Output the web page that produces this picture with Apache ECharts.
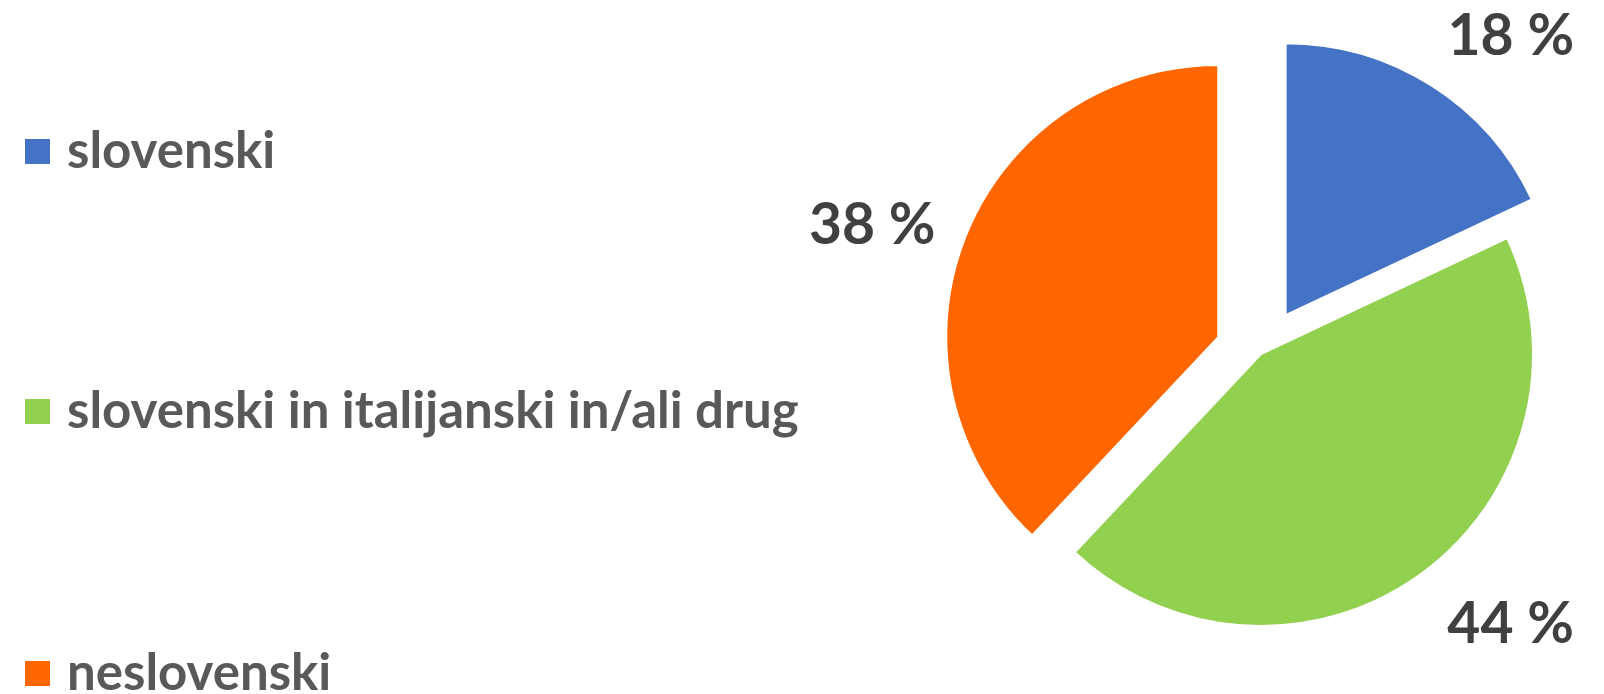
<!DOCTYPE html>
<html>
<head>
<meta charset="utf-8">
<script src="https://cdn.jsdelivr.net/npm/echarts@6/dist/echarts.min.js"></script>
<style>
html, body { margin: 0; padding: 0; background: #fff; }
#main { width: 1604px; height: 694px; }
</style>
</head>
<body>
<div id="main"></div>
<script>
// podatki
var categories = ['slovenski', 'slovenski in italijanski in/ali drug', 'neslovenski'];
var values = [18, 44, 38];
var sliceColors = ['#4472C4', '#92D050', '#FF6600'];
var explodedSlices = [true, false, true];

// label placement tweaks (style only)
var labelLineLen = [58, 62, 32];
var labelDist = [-15, -10, 0];
var legendTops = [126, 386, 648];

var fontName = 'Lato, "Open Sans", sans-serif';

var pieData = [];
for (var i = 0; i < categories.length; i++) {
	pieData.push({
		name: categories[i],
		value: values[i],
		selected: explodedSlices[i],
		itemStyle: { color: sliceColors[i] },
		labelLine: { show: false, length: labelLineLen[i], length2: 0 },
		label: { distanceToLabelLine: labelDist[i] }
	});
}

var legends = [];
for (var j = 0; j < categories.length; j++) {
	legends.push({
		orient: 'vertical',
		left: 25,
		top: legendTops[j],
		padding: 0,
		icon: 'rect',
		itemWidth: 25,
		itemHeight: 25,
		selectedMode: false,
		itemStyle: { borderWidth: 0 },
		textStyle: {
			fontFamily: fontName,
			fontWeight: 'bold',
			fontSize: 51,
			lineHeight: 51,
			color: '#595959',
			padding: [0, 0, 0, 12]
		},
		data: [categories[j]]
	});
}

var myChart = echarts.init(document.getElementById('main'));
var option = {
	backgroundColor: '#ffffff',
	animation: false,
	legend: legends,
	series: [{
		type: 'pie',
		center: [1261, 354],
		radius: 272,
		startAngle: 90,
		clockwise: true,
		selectedMode: 'multiple',
		selectedOffset: 46,
		avoidLabelOverlap: false,
		itemStyle: { borderColor: '#ffffff', borderWidth: 2 },
		emphasis: { disabled: true },
		select: {
			itemStyle: { borderColor: '#ffffff', borderWidth: 2 },
			label: { color: '#404040' }
		},
		label: {
			show: true,
			position: 'outside',
			formatter: '{c} %',
			fontFamily: fontName,
			fontWeight: 'bold',
			fontSize: 57,
			lineHeight: 57,
			color: '#404040'
		},
		labelLine: { show: false, length: 55, length2: 0 },
		data: pieData
	}]
};
myChart.setOption(option);
</script>
</body>
</html>
